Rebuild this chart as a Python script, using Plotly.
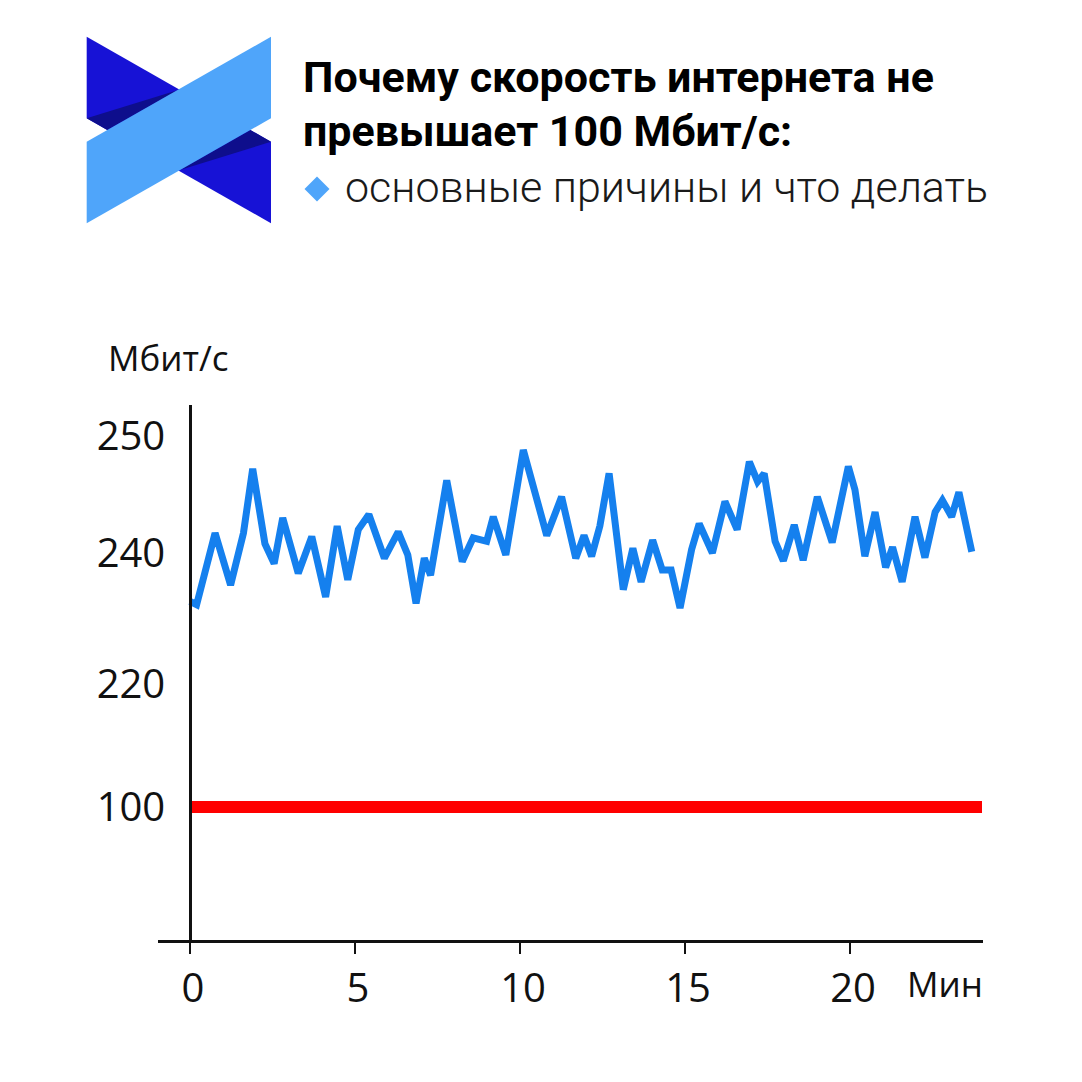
import numpy as np
import plotly.graph_objects as go

W = H = 1082

# ---------------- data ----------------
minutes = [0.00, 0.20, 0.76, 1.23, 1.62, 1.90, 2.27, 2.55, 2.81, 3.28, 3.69, 4.11, 4.46, 4.78,
           5.10, 5.42, 5.89, 6.31, 6.60, 6.85, 7.10, 7.29, 7.78, 8.25, 8.58, 8.99, 9.19, 9.57,
           10.10, 10.81, 11.26, 11.69, 11.94, 12.17, 12.42, 12.70, 13.13, 13.42, 13.67, 14.02,
           14.31, 14.58, 14.85, 15.20, 15.43, 15.83, 16.21, 16.58, 16.95, 17.20, 17.40, 17.73,
           17.98, 18.31, 18.58, 19.01, 19.46, 19.95, 20.15, 20.45, 20.76, 21.08, 21.29, 21.58,
           21.97, 22.27, 22.58, 22.80, 23.08, 23.30, 23.69]
speed = [232.6, 232.1, 241.7, 235.1, 241.7, 247.2, 240.8, 238.4, 243.0, 236.9, 241.4, 233.3,
         242.3, 235.9, 242.0, 243.3, 239.2, 241.8, 239.7, 232.3, 239.2, 236.6, 246.2, 238.7,
         241.3, 241.0, 243.1, 239.7, 248.8, 241.5, 244.8, 239.2, 241.5, 239.5, 242.3, 246.8,
         234.4, 240.4, 235.6, 241.1, 237.4, 237.4, 231.6, 240.3, 242.5, 240.0, 244.4, 242.0,
         247.8, 246.1, 246.8, 241.0, 238.8, 242.4, 238.9, 244.8, 240.9, 247.4, 245.4, 239.5,
         243.5, 237.8, 240.5, 235.6, 243.1, 239.3, 243.5, 244.5, 243.1, 245.2, 240.1]
limit_minutes = [0, 24]
limit_speed = [100, 100]

x_tick_values = [0, 5, 10, 15, 20]
y_tick_values = [100, 220, 240, 250]
y_tick_labels = ["100", "220", "240", "250"]

title_line1 = "Почему скорость интернета не"
title_line2 = "превышает 100 Мбит/с:"
subtitle = "основные причины и что делать"
y_title = "Мбит/с"
x_title = "Мин"

# ---------------- broken (piecewise linear) y scale ----------------
SCALE_IN = [100, 220, 240, 250]
SCALE_OUT = [0, 123, 254, 371]


def yscale(v):
    return np.interp(np.asarray(v, dtype=float), SCALE_IN, SCALE_OUT)


def px(x, y):
    return x / W, 1 - y / H


def path(points):
    pts = [px(x, y) for x, y in points]
    return "M " + " L ".join(f"{a:.5f},{b:.5f}" for a, b in pts) + " Z"


TICK_FONT = dict(family="Open Sans, sans-serif", size=40, color="#111")

fig = go.Figure()
fig.add_trace(go.Scatter(x=limit_minutes, y=yscale(limit_speed), mode="lines",
                         line=dict(color="#FF0000", width=12), hoverinfo="skip"))
fig.add_trace(go.Scatter(x=minutes, y=yscale(speed), mode="lines",
                         line=dict(color="#1580EE", width=7), hoverinfo="skip"))

# plot area geometry (pixels)
x_left, x_right = 158, 983
y_top, y_bottom = 405, 940
x0_px, px_per_min = 190, 33.0
y100_px = 807

fig.update_layout(
    width=W, height=H,
    margin=dict(l=0, r=0, t=0, b=0),
    paper_bgcolor="white", plot_bgcolor="white",
    showlegend=False,
    xaxis=dict(
        domain=[x_left / W, x_right / W],
        range=[(x_left - x0_px) / px_per_min, (x_right - x0_px) / px_per_min],
        tickvals=x_tick_values, ticktext=[str(v) for v in x_tick_values],
        showline=True, linecolor="#111", linewidth=3,
        ticks="outside", ticklen=11, tickwidth=2, tickcolor="#111",
        showgrid=False, zeroline=False, tickfont=TICK_FONT, ticklabelstandoff=0,
        ticklabelshift=3,
        anchor="y", automargin=False,
    ),
    yaxis=dict(
        domain=[1 - y_bottom / H, 1 - y_top / H],
        range=[y100_px - y_bottom, y100_px - y_top],
        tickvals=yscale(y_tick_values), ticktext=y_tick_labels,
        showline=True, linecolor="#111", linewidth=2.5,
        ticks="", showgrid=False, zeroline=False, tickfont=TICK_FONT,
        ticklabelstandoff=16,
        anchor="free", position=x0_px / W, automargin=False,
    ),
)

# ---------------- logo ----------------
DARK = "#1712D6"
SHADOW = "#0E0E8C"
LIGHT = "#4FA5FA"
dark_ribbon = [(86.7, 36.7), (271, 141.7), (271, 223.3), (86.7, 118.3)]
light_ribbon = [(86.7, 141.7), (271, 36.7), (271, 118.3), (86.7, 223.3)]
shadow_left = [(86.7, 118.3), (178.3, 90.0), (107.2, 130.0)]
shadow_right = [(180.0, 170.1), (271, 141.7), (250.4, 130.0)]
shapes = []
for pts, col in [(dark_ribbon, DARK), (shadow_left, SHADOW), (shadow_right, SHADOW), (light_ribbon, LIGHT)]:
    shapes.append(dict(type="path", xref="paper", yref="paper", path=path(pts),
                       fillcolor=col, line=dict(width=0)))
# diamond bullet
cx, cy, r = 317, 189, 12.5
shapes.append(dict(type="path", xref="paper", yref="paper",
                   path=path([(cx, cy - r), (cx + r, cy), (cx, cy + r), (cx - r, cy)]),
                   fillcolor=LIGHT, line=dict(width=0)))
fig.update_layout(shapes=shapes)

ann = []
ax, ay = px(301, 77)
ann.append(dict(x=ax, y=ay, xref="paper", yref="paper", xanchor="left", yanchor="middle",
                text=title_line1, showarrow=False,
                font=dict(family="Roboto", size=43, weight=700, color="#000")))
ax, ay = px(301, 131)
ann.append(dict(x=ax, y=ay, xref="paper", yref="paper", xanchor="left", yanchor="middle",
                text=title_line2, showarrow=False,
                font=dict(family="Roboto", size=43, weight=700, color="#000")))
ax, ay = px(343, 187)
ann.append(dict(x=ax, y=ay, xref="paper", yref="paper", xanchor="left", yanchor="middle",
                text=subtitle, showarrow=False,
                font=dict(family="Roboto", size=43, weight=300, color="#1a1a1a")))
ax, ay = px(106, 357)
ann.append(dict(x=ax, y=ay, xref="paper", yref="paper", xanchor="left", yanchor="middle",
                text=y_title, showarrow=False, font=dict(TICK_FONT, size=35)))
ax, ay = px(945, 983)
ann.append(dict(x=ax, y=ay, xref="paper", yref="paper", xanchor="center", yanchor="middle",
                text=x_title, showarrow=False, font=dict(TICK_FONT, size=35)))
fig.update_layout(annotations=ann)

fig.write_html("out.html")
